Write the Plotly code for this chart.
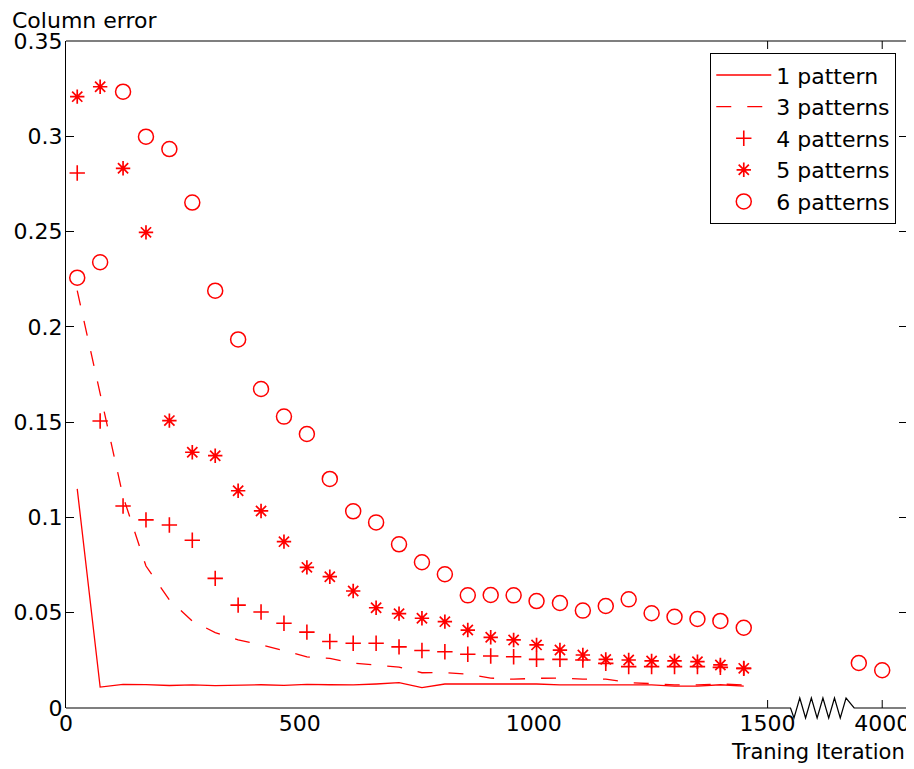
import plotly.graph_objects as go

# ---------------- data ----------------
iterations = [24, 73, 122, 171, 221, 270, 319, 368, 417, 466, 515, 564, 614, 663, 712,
              761, 810, 859, 908, 957, 1006, 1056, 1105, 1154, 1203, 1252, 1301, 1350, 1399, 1449]
one_pattern = [0.115, 0.011, 0.0124, 0.0123, 0.0118, 0.0121, 0.0117, 0.0121, 0.0122, 0.0119,
               0.0124, 0.0122, 0.0121, 0.0126, 0.0133, 0.0107, 0.0126, 0.0126, 0.0126, 0.0128,
               0.0126, 0.0121, 0.0121, 0.0122, 0.0124, 0.0121, 0.0115, 0.0115, 0.0122, 0.0115]
three_patterns = [0.219, 0.165, 0.111, 0.0745, 0.0567, 0.0456, 0.0396, 0.0357, 0.0332, 0.0301,
                  0.0268, 0.026, 0.0236, 0.0225, 0.0215, 0.0185, 0.0186, 0.0177, 0.0157, 0.0151,
                  0.0156, 0.0157, 0.0152, 0.0152, 0.0133, 0.0128, 0.0121, 0.0121, 0.0126, 0.0121]
four_patterns = [0.2807, 0.1506, 0.106, 0.0987, 0.096, 0.088, 0.068, 0.054, 0.0504, 0.0445,
                 0.0398, 0.0349, 0.034, 0.034, 0.0321, 0.0302, 0.0295, 0.0282, 0.0273, 0.0269,
                 0.0255, 0.0255, 0.0252, 0.0234, 0.0217, 0.0217, 0.0217, 0.0217, 0.0213, 0.0208]
five_patterns = [0.3208, 0.326, 0.2832, 0.2496, 0.1508, 0.1342, 0.1324, 0.114, 0.1034, 0.0873,
                 0.0738, 0.0689, 0.0614, 0.0526, 0.0495, 0.0471, 0.0453, 0.0409, 0.0371, 0.0357,
                 0.0331, 0.0304, 0.0278, 0.0255, 0.0252, 0.0247, 0.0247, 0.0243, 0.0226, 0.0208]
six_patterns = [0.2258, 0.2339, 0.3234, 0.2998, 0.2933, 0.2652, 0.219, 0.1934, 0.1674, 0.1529,
                0.1438, 0.1202, 0.1032, 0.0974, 0.0859, 0.0765, 0.0702, 0.0591, 0.0593, 0.0591,
                0.0561, 0.0551, 0.0511, 0.0535, 0.057, 0.0497, 0.0479, 0.0467, 0.0457, 0.0421]
tail_iterations = [3950, 4000]
six_patterns_tail = [0.0236, 0.0198]

x_tick_labels = ["0", "500", "1000", "1500", "4000"]
x_tick_iters = [0, 500, 1000, 1500, 4000]
x_tick_marks = [1500, 4000]
y_tick_vals = [0, 0.05, 0.1, 0.15, 0.2, 0.25, 0.3, 0.35]
y_tick_labels = ["0", "0.05", "0.1", "0.15", "0.2", "0.25", "0.3", "0.35"]

# ---------------- broken axis mapping ----------------
BREAK_AT = 1700          # iterations beyond this are shifted left
BREAK_SHIFT = 2255       # gap removed by the axis break
X_MAX = 1798
ZIG_START = 1549         # axis position where the break symbol starts
ZIG_END = 1685


def xpos(v):
    return v - BREAK_SHIFT if v > BREAK_AT else v


RED = "#ff0000"
FONT = "DejaVu Sans"
PLOT_H = 667.0

fig = go.Figure()
fig.add_trace(go.Scatter(x=[xpos(v) for v in iterations], y=one_pattern, mode="lines",
                         name="1 pattern", line=dict(color=RED, width=1.3)))
fig.add_trace(go.Scatter(x=[xpos(v) for v in iterations], y=three_patterns, mode="lines",
                         name="3 patterns", line=dict(color=RED, width=1.3, dash="15px,16px")))
fig.add_trace(go.Scatter(x=[xpos(v) for v in iterations], y=four_patterns, mode="markers",
                         name="4 patterns",
                         marker=dict(symbol="cross-thin-open", size=11, color=RED,
                                     line=dict(color=RED, width=1.6))))
fig.add_trace(go.Scatter(x=[xpos(v) for v in iterations], y=five_patterns, mode="markers",
                         name="5 patterns",
                         marker=dict(symbol="asterisk-open", size=12, color=RED,
                                     line=dict(color=RED, width=1.7))))
fig.add_trace(go.Scatter(x=[xpos(v) for v in iterations + tail_iterations],
                         y=six_patterns + six_patterns_tail, mode="markers",
                         name="6 patterns",
                         marker=dict(symbol="circle-open", size=15, color=RED,
                                     line=dict(color=RED, width=1.5))))

# ---------------- frame: top line, bottom line with zigzag break, x tick marks ----------------
def to_paper_x(v):
    return v / X_MAX

zs, ze = to_paper_x(ZIG_START), to_paper_x(ZIG_END)
amp = 10 / PLOT_H
n_half = 10
step = (ze - zs) / (n_half + 1)
pts = [(0, 0), (zs, 0)]
for i in range(n_half):
    pts.append((zs + step * (i + 0.6), -amp if i % 2 == 0 else amp))
pts.append((ze, 0))
pts.append((1, 0))
path = "M " + " L ".join(f"{a:.5f},{b:.5f}" for a, b in pts)

shapes = [
    dict(type="path", xref="paper", yref="paper", path=path,
         line=dict(color="black", width=1.2)),
    dict(type="line", xref="paper", yref="paper", x0=0, x1=1, y0=1, y1=1,
         line=dict(color="black", width=1.2)),
]
tl = 8 / PLOT_H
for v in x_tick_marks:
    px = to_paper_x(xpos(v))
    shapes.append(dict(type="line", xref="paper", yref="paper", x0=px, x1=px, y0=0, y1=tl,
                       line=dict(color="black", width=1)))
    shapes.append(dict(type="line", xref="paper", yref="paper", x0=px, x1=px, y0=1, y1=1 - tl,
                       line=dict(color="black", width=1)))

annotations = [
    dict(text="Column error", xref="paper", yref="paper", x=-0.067, y=1.031,
         xanchor="left", yanchor="middle", showarrow=False,
         font=dict(family=FONT, size=22, color="black")),
    dict(text="Traning Iteration", xref="paper", yref="paper", x=1.0, y=-0.066,
         xanchor="right", yanchor="middle", showarrow=False,
         font=dict(family=FONT, size=21, color="black")),
]

fig.update_layout(
    width=906, height=761,
    margin=dict(l=58, r=4, t=33, b=61),
    paper_bgcolor="white", plot_bgcolor="white",
    font=dict(family=FONT, size=22, color="black"),
    showlegend=True,
    legend=dict(x=0.987, y=0.982, xanchor="right", yanchor="top",
                bgcolor="white", bordercolor="black", borderwidth=1.2,
                font=dict(family=FONT, size=22, color="black"),
                itemwidth=55, tracegroupgap=0),
    xaxis=dict(range=[0, X_MAX], tickmode="array",
               tickvals=[xpos(v) for v in x_tick_iters], ticktext=x_tick_labels,
               ticks="", showgrid=False, zeroline=False, showline=False,
               tickfont=dict(family=FONT, size=22, color="black")),
    yaxis=dict(range=[0, 0.35], tickmode="array", tickvals=y_tick_vals,
               ticktext=y_tick_labels, ticks="inside", ticklen=8, tickwidth=1,
               tickcolor="black", showline=True, linecolor="black", linewidth=1.2,
               mirror="ticks", showgrid=False, zeroline=False,
               ticklabelstandoff=-2,
               tickfont=dict(family=FONT, size=22, color="black")),
    shapes=shapes,
    annotations=annotations,
)

fig.write_html("out.html")
